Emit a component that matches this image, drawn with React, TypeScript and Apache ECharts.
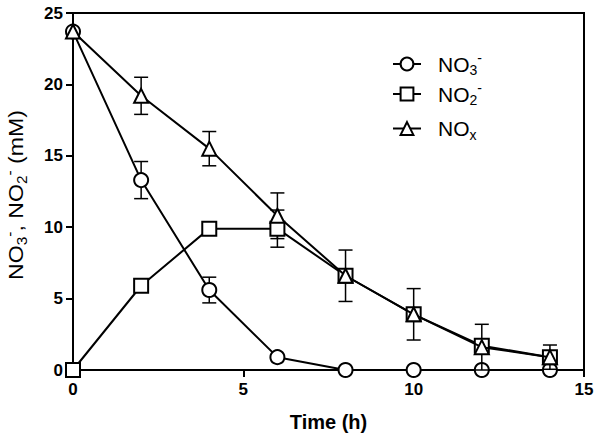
import React, { useEffect, useRef } from 'react';
import * as echarts from 'echarts';

const times = [0, 2, 4, 6, 8, 10, 12, 14];
const no3 = [23.7, 13.3, 5.6, 0.9, 0, 0, 0, 0];
const no3Err = [0, 1.3, 0.9, 0, 0, 0, 0, 0];
const no2 = [0, 5.9, 9.9, 9.9, 6.6, 3.9, 1.7, 0.9];
const no2Err = [0, 0, 0, 1.3, 0, 0, 0, 0];
const nox = [23.7, 19.2, 15.5, 10.8, 6.6, 3.9, 1.6, 0.9];
const noxErr = [0, 1.3, 1.2, 1.6, 1.8, 1.8, 1.6, 0.85];
const seriesNames = ['NO3-', 'NO2-', 'NOx'];
const legendLabels = ['{n|NO}{sub|3}{sup|-}', '{n|NO}{sub|2}{sup|-}', '{n|NO}{sub|x}'];
const yAxisTitle = '{n|NO}{sub|3}{sup|-}{n|, NO}{sub|2}{sup|-}{n| (mM)}';
const xAxisTitle = 'Time (h)';

const FONT = '"Liberation Sans", Arial, sans-serif';

function errData(vals: number[], errs: number[]) {
  const out: number[][] = [];
  vals.forEach((v, i) => {
    if (errs[i] > 0) out.push([times[i], v - errs[i], v + errs[i]]);
  });
  return out;
}

function errSeries(name: string, data: number[][], z: number) {
  return {
    type: 'custom',
    name: name + '_err',
    z,
    silent: true,
    data,
    encode: { x: 0, y: [1, 2] },
    renderItem: (params: any, api: any) => {
      const x = api.value(0);
      const lo = api.value(1);
      const hi = api.value(2);
      const pHi = api.coord([x, hi]);
      const pLo = api.coord([x, lo]);
      const w = 7;
      const style = { stroke: '#000', lineWidth: 1.5 };
      return {
        type: 'group',
        children: [
          { type: 'line', shape: { x1: pHi[0], y1: pHi[1], x2: pLo[0], y2: pLo[1] }, style },
          { type: 'line', shape: { x1: pHi[0] - w, y1: pHi[1], x2: pHi[0] + w, y2: pHi[1] }, style },
          { type: 'line', shape: { x1: pLo[0] - w, y1: pLo[1], x2: pLo[0] + w, y2: pLo[1] }, style },
        ],
      };
    },
  };
}

const richMain = {
  n: { fontSize: 21, lineHeight: 26, fontFamily: FONT, color: '#000', verticalAlign: 'middle' },
  sub: { fontSize: 14, lineHeight: 14, fontFamily: FONT, color: '#000', verticalAlign: 'bottom' },
  sup: { fontSize: 14, lineHeight: 14, fontFamily: FONT, color: '#000', verticalAlign: 'top' },
};

export default function App() {
  const ref = useRef<HTMLDivElement>(null);
  useEffect(() => {
    if (!ref.current) return;
    const chart = echarts.init(ref.current, undefined, { renderer: 'svg' });
    const lineSeries = (name: string, vals: number[], symbol: string, size: number, z: number) => ({
      type: 'line',
      name,
      z,
      data: times.map((t, i) => [t, vals[i]]),
      symbol,
      symbolSize: size,
      showAllSymbol: true,
      lineStyle: { color: '#000', width: 2 },
      itemStyle: { color: '#fff', borderColor: '#000', borderWidth: 2 },
      emphasis: { disabled: true },
    });
    const legendTops = [51, 81, 118];
    chart.setOption({
      animation: false,
      backgroundColor: '#fff',
      grid: {
        left: 73,
        right: 16,
        top: 13,
        bottom: 67,
        show: true,
        borderColor: '#000',
        borderWidth: 2,
        backgroundColor: 'transparent',
      },
      legend: seriesNames.map((nm, i) => ({
        data: [nm],
        left: 392,
        top: legendTops[i],
        padding: 0,
        itemWidth: 28,
        itemHeight: 16,
        selectedMode: false,
        formatter: () => legendLabels[i],
        textStyle: { color: '#000', fontFamily: FONT, fontSize: 21, padding: [0, 0, 0, 12], rich: richMain },
      })),
      xAxis: {
        type: 'value',
        min: 0,
        max: 15,
        interval: 5,
        name: xAxisTitle,
        nameLocation: 'middle',
        nameGap: 42,
        nameTextStyle: { color: '#000', fontFamily: FONT, fontSize: 20, fontWeight: 'bold' },
        axisLine: { show: true, lineStyle: { color: '#000', width: 2 } },
        axisTick: { show: true, length: 7, lineStyle: { color: '#000', width: 2 } },
        axisLabel: { color: '#000', fontFamily: FONT, fontSize: 17, fontWeight: 'bold', margin: 11 },
        splitLine: { show: false },
      },
      yAxis: {
        type: 'value',
        min: 0,
        max: 25,
        interval: 5,
        axisLine: { show: true, lineStyle: { color: '#000', width: 2 } },
        axisTick: { show: true, length: 7, lineStyle: { color: '#000', width: 2 } },
        axisLabel: { color: '#000', fontFamily: FONT, fontSize: 17, fontWeight: 'bold', margin: 10 },
        splitLine: { show: false },
      },
      graphic: [
        {
          type: 'text',
          x: 16,
          y: 195,
          rotation: Math.PI / 2,
          scaleX: 1.1,
          style: {
            text: yAxisTitle,
            rich: richMain,
            fontFamily: FONT,
            fontSize: 21,
            fill: '#000',
            align: 'center',
            verticalAlign: 'middle',
          },
        },
      ],
      series: [
        errSeries('NO3', errData(no3, no3Err), 1),
        lineSeries(seriesNames[0], no3, 'circle', 14, 2),
        errSeries('NO2', errData(no2, no2Err), 3),
        errSeries('NOx', errData(nox, noxErr), 3),
        lineSeries(seriesNames[1], no2, 'rect', 14, 4),
        lineSeries(seriesNames[2], nox, 'triangle', 14, 5),
      ],
    });
    return () => chart.dispose();
  }, []);
  return <div ref={ref} style={{ width: 600, height: 437, position: 'absolute', left: 0, top: 0 }} />;
}
